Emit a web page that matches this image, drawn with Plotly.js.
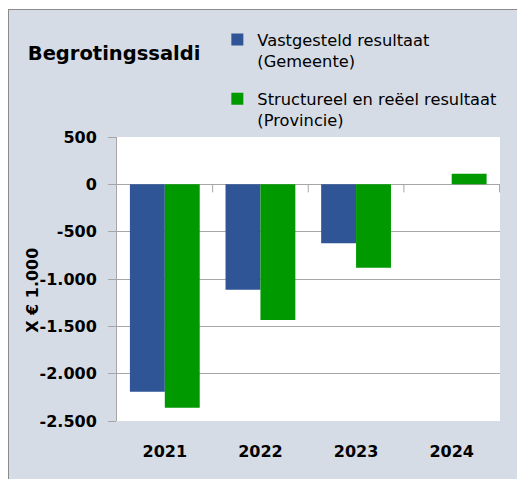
<!DOCTYPE html>
<html>
<head>
<meta charset="utf-8">
<script src="https://cdn.plot.ly/plotly-3.0.1.min.js"></script>
<style>
  html, body { margin: 0; padding: 0; background: #ffffff; }
  #frame { position: absolute; left: 8px; top: 9px; width: 509px; height: 470px;
           border-top: 1px solid #8c8c8c; border-left: 1px solid #8c8c8c; background: #D6DCE5; box-sizing: border-box; }
  #chart { position: absolute; left: 0; top: 0; width: 508px; height: 469px; }
</style>
</head>
<body>
<div id="frame"><div id="chart"></div></div>
<script>
const categories = ['2021', '2022', '2023', '2024'];
const gemeente = [-2190, -1113, -623, null];
const provincie = [-2360, -1433, -881, 112];
const seriesNames = ['Vastgesteld resultaat<br>(Gemeente)', 'Structureel en reëel resultaat<br>(Provincie)'];
const yTickVals = [500, 0, -500, -1000, -1500, -2000, -2500];
const yTickText = ['500', '0', '-500', '-1.000', '-1.500', '-2.000', '-2.500'];

const traces = [
  { type: 'bar', x: categories, y: gemeente, name: seriesNames[0], legendgroup: 'a',
    marker: { color: '#2F5597' } },
  { type: 'bar', x: categories, y: provincie, name: seriesNames[1], legendgroup: 'b',
    marker: { color: '#009900' } }
];

const boundaryTicks = categories.map((c, i) => ({
  type: 'line', xref: 'x', yref: 'y', ysizemode: 'pixel', yanchor: 0,
  x0: i + 0.5, x1: i + 0.5, y0: 0, y1: -8,
  line: { color: '#A6A6A6', width: 1 }
}));

const layout = {
  width: 508, height: 469,
  margin: { l: 108, r: 17, t: 127, b: 58, autoexpand: false },
  paper_bgcolor: '#D6DCE5',
  plot_bgcolor: '#ffffff',
  barmode: 'group', bargap: 0.27, bargroupgap: 0,
  font: { family: 'DejaVu Sans', color: '#000000' },
  title: { text: '<b>Begrotingssaldi</b>', xref: 'container', yref: 'container',
           x: 0.037, xanchor: 'left', y: 0.908, yanchor: 'middle',
           font: { family: 'DejaVu Sans', size: 19.5, color: '#000000' } },
  xaxis: { type: 'category', showgrid: false, showline: false, zeroline: false,
           ticks: 'outside', ticklen: 16, tickcolor: 'rgba(0,0,0,0)',
           tickfont: { family: 'DejaVu Sans', size: 16, weight: 'bold' } },
  yaxis: { range: [-2500, 500], tickvals: yTickVals, ticktext: yTickText,
           showgrid: true, gridcolor: '#A6A6A6', gridwidth: 1,
           zeroline: true, zerolinecolor: '#A6A6A6', zerolinewidth: 1,
           showline: true, linecolor: '#A6A6A6', linewidth: 1,
           ticks: 'outside', ticklen: 8, tickcolor: '#A6A6A6', ticklabelstandoff: 8,
           tickfont: { family: 'DejaVu Sans', size: 16, weight: 'bold' } },
  showlegend: true,
  legend: { x: 0.262, xanchor: 'left', y: 1.403, yanchor: 'top', valign: 'top',
            bgcolor: 'rgba(0,0,0,0)', tracegroupgap: 14, traceorder: 'grouped',
            font: { family: 'DejaVu Sans', size: 16.25, color: '#000000' } },
  annotations: [{ text: '<b>X € 1.000</b>', textangle: -90, showarrow: false,
                  xref: 'paper', yref: 'paper', x: -0.2225, y: 0.461,
                  xanchor: 'center', yanchor: 'middle',
                  font: { family: 'DejaVu Sans', size: 16, color: '#000000' } }],
  shapes: boundaryTicks
};

Plotly.newPlot('chart', traces, layout, { displayModeBar: false, staticPlot: true });
</script>
</body>
</html>
